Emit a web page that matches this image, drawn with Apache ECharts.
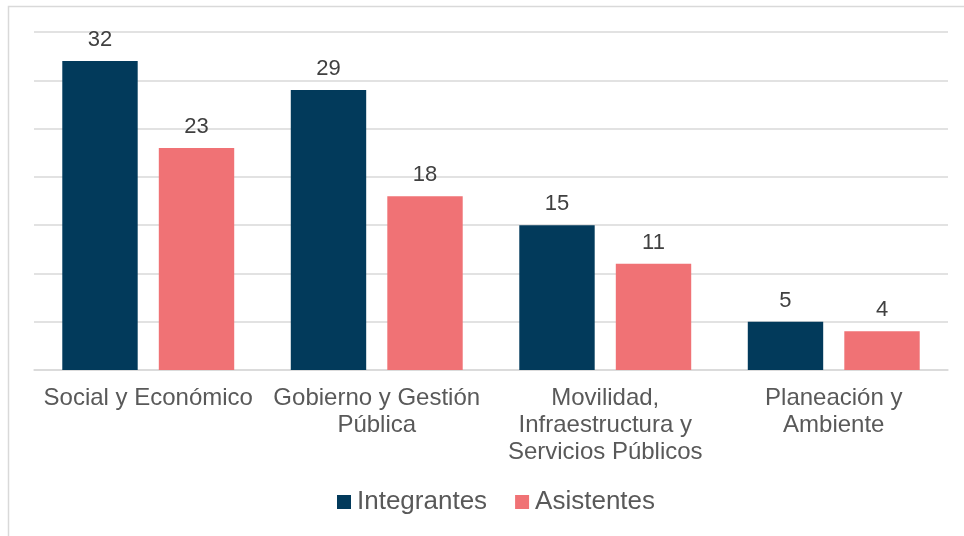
<!DOCTYPE html>
<html>
<head>
<meta charset="utf-8">
<script src="https://cdn.jsdelivr.net/npm/echarts@6/dist/echarts.min.js"></script>
<style>html,body{margin:0;padding:0;background:#fff}#c{width:964px;height:536px}</style>
</head>
<body>
<div id="c"></div>
<script>
var categories = ['Social y Económico', 'Gobierno y Gestión\nPública', 'Movilidad,\nInfraestructura y\nServicios Públicos', 'Planeación y\nAmbiente'];
var integrantes = [32, 29, 15, 5];
var asistentes = [23, 18, 11, 4];
var seriesNames = ['Integrantes', 'Asistentes'];

var chart = echarts.init(document.getElementById('c'));
var font = '"Liberation Sans", Arial, sans-serif';
chart.setOption({
  animation: false,
  textStyle: { fontFamily: font },
  graphic: [{
    type: 'rect', shape: { x: 8.5, y: 6.5, width: 1200, height: 1200 },
    style: { fill: 'none', stroke: '#d9d9d9', lineWidth: 1.5 }, silent: true, z: -1
  }],
  grid: { left: 34, right: 16, top: 32, bottom: 166 },
  legend: {
    data: seriesNames, left: 337, top: 489, padding: 0,
    itemWidth: 14, itemHeight: 14, itemGap: 28,
    icon: 'rect',
    textStyle: { fontSize: 26, color: '#595959', fontFamily: font, padding: [0, 0, 0, 1] }
  },
  xAxis: {
    type: 'category', data: categories,
    axisLine: { lineStyle: { color: '#d9d9d9', width: 1.5 } },
    axisTick: { show: false },
    axisLabel: { fontSize: 24, color: '#595959', lineHeight: 27, margin: 15, interval: 0, fontFamily: font }
  },
  yAxis: {
    type: 'value', min: 0, max: 35, interval: 5,
    axisLabel: { show: false }, axisLine: { show: false }, axisTick: { show: false },
    splitLine: { lineStyle: { color: '#d9d9d9', width: 1.5 } }
  },
  series: [
    { name: seriesNames[0], type: 'bar', data: integrantes, barWidth: '33%', barGap: '28%',
      itemStyle: { color: '#023A5B' },
      label: { show: true, position: 'top', distance: 10, fontSize: 22, color: '#404040', fontFamily: font } },
    { name: seriesNames[1], type: 'bar', data: asistentes, barWidth: '33%',
      itemStyle: { color: '#F07275' },
      label: { show: true, position: 'top', distance: 10, fontSize: 22, color: '#404040', fontFamily: font } }
  ]
});
</script>
</body>
</html>
